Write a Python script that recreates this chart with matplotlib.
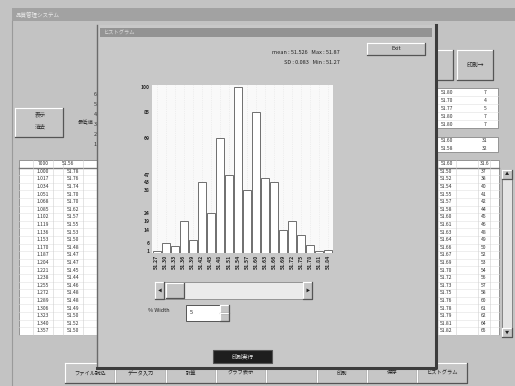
import matplotlib
matplotlib.use("Agg")
import matplotlib.pyplot as plt
from matplotlib.patches import Rectangle

plt.rcParams['font.family'] = ['Noto Sans CJK JP', 'DejaVu Sans']

# histogram data: bin lower edges and counts
bin_labels = ["51.27", "51.30", "51.33", "51.36", "51.39", "51.42", "51.45",
              "51.48", "51.51", "51.54", "51.57", "51.60", "51.63", "51.66",
              "51.69", "51.72", "51.75", "51.78", "51.81", "51.84"]
counts = [1, 6, 4, 19, 8, 43, 24, 69, 47, 100, 38, 85, 45, 43, 14, 19, 11, 5, 1, 2]
# counts shown on the vertical axis
count_ticks = [1, 6, 14, 19, 24, 38, 43, 47, 69, 85, 100]

stat_lines = ["mean : 51.526   Max : 51.87", "SD : 0.083   Min : 51.27"]
button_names = ["ファイル読込", "データ入力", "計算", "グラフ表示", "", "印刷", "保存", "ヒストグラム"]
left_col1 = ["1.000", "1.017", "1.034", "1.051", "1.068", "1.085", "1.102", "1.119",
             "1.136", "1.153", "1.170", "1.187", "1.204", "1.221", "1.238", "1.255",
             "1.272", "1.289", "1.306", "1.323", "1.340", "1.357"]
left_col2 = ["51.78", "51.76", "51.74", "51.70", "51.70", "51.62", "51.57", "51.55",
             "51.53", "51.50", "51.48", "51.47", "51.47", "51.45", "51.44", "51.46",
             "51.48", "51.48", "51.49", "51.50", "51.52", "51.50"]
right_col1 = ["51.50", "51.52", "51.54", "51.55", "51.57", "51.58", "51.60", "51.61",
              "51.63", "51.64", "51.66", "51.67", "51.69", "51.70", "51.72", "51.73",
              "51.75", "51.76", "51.78", "51.79", "51.81", "51.82"]
right_col2 = ["37", "38", "40", "41", "42", "44", "45", "46", "48", "49", "50",
              "52", "53", "54", "56", "57", "58", "60", "61", "62", "64", "65"]

W, H = 515, 386
fig = plt.figure(figsize=(W / 100, H / 100), dpi=100)
fig.patch.set_facecolor("#c3c3c3")

bg = fig.add_axes([0, 0, 1, 1])
bg.set_xlim(0, W)
bg.set_ylim(H, 0)
bg.axis("off")


def box(x, y, w, h, fc, ec="none", lw=0.8, z=1):
    bg.add_patch(Rectangle((x, y), w, h, facecolor=fc, edgecolor=ec, linewidth=lw, zorder=z))


def button(x, y, w, h, label="", z=2, fs=4.2):
    box(x, y, w, h, "#c6c6c6", z=z)
    bg.plot([x, x + w], [y, y], color="white", lw=0.8, zorder=z + 0.1)
    bg.plot([x, x], [y, y + h], color="white", lw=0.8, zorder=z + 0.1)
    bg.plot([x, x + w, x + w], [y + h, y + h, y], color="#555555", lw=0.9, zorder=z + 0.1)
    if label:
        bg.text(x + w / 2, y + h / 2, label, fontsize=fs, color="#222222",
                ha="center", va="center", zorder=z + 0.2)


def table(x, y, widths, n_rows, row_h, col_a, col_b, z=1.5):
    total = sum(widths)
    box(x, y, total, row_h * (n_rows + 1), "white", ec="#888888", lw=0.6, z=z)
    bg.plot([x, x + total], [y + row_h + 0.5, y + row_h + 0.5], color="#777777", lw=1.0, zorder=z + 0.1)
    for r in range(1, n_rows + 1):
        yy = y + row_h * (r + 1)
        bg.plot([x, x + total], [yy, yy], color="#e2e2e2", lw=0.4, zorder=z + 0.1)
    xx = x
    for wd in widths[:-1]:
        xx += wd
        bg.plot([xx, xx], [y, y + row_h * (n_rows + 1)], color="#cfcfcf", lw=0.4, zorder=z + 0.1)
    cx_a = x + widths[0] + widths[1] / 2
    cx_b = x + sum(widths[:3]) + widths[3] / 2
    for r in range(n_rows):
        yy = y + row_h * (r + 1.5)
        bg.text(cx_a, yy, col_a[r], fontsize=3.6, color="#333333", ha="center", va="center", zorder=z + 0.2)
        bg.text(cx_b, yy, col_b[r], fontsize=3.6, color="#333333", ha="center", va="center", zorder=z + 0.2)


# main window
box(12, 8, 503, 13, "#a2a2a2", z=1)
bg.text(16, 14.5, "品質管理システム", fontsize=4, color="#e8e8e8", va="center", zorder=1.2)
bg.plot([12, 12], [21, 386], color="#9a9a9a", lw=0.8, zorder=1)

button(15, 108, 48, 29, "", z=1.5)
bg.text(40, 115, "表示", fontsize=4, color="#333333", ha="center", va="center", zorder=2)
bg.text(40, 127, "消去", fontsize=4, color="#333333", ha="center", va="center", zorder=2)
for yy, s in zip([95, 105, 115, 125, 135, 145], ["6", "5", "4", "3", "2", "1"]):
    bg.text(95, yy, s, fontsize=4, color="#333333", ha="center", va="center", zorder=1.5)
bg.text(86, 123, "最低値", fontsize=3.8, color="#333333", ha="center", va="center", zorder=1.5)

table(19, 160, [14, 20, 10, 20, 30], 22, 7.6, left_col1, left_col2)
bg.text(43, 163.8, "7000", fontsize=3.6, color="#333333", ha="center", va="center", zorder=2)
bg.text(68, 163.8, "51.56", fontsize=3.6, color="#333333", ha="center", va="center", zorder=2)

# right side panels
button(437, 50, 16, 30, "", z=1.5)
button(457, 50, 36, 30, "印刷→", z=1.5)
box(437, 88, 61, 40, "white", ec="#888888", lw=0.6, z=1.5)
for k in range(1, 5):
    bg.plot([437, 498], [88 + 8 * k, 88 + 8 * k], color="#e0e0e0", lw=0.4, zorder=1.6)
for k, (a, b) in enumerate(zip(["51.80", "51.70", "51.77", "51.80", "51.80"], ["7", "4", "5", "7", "7"])):
    bg.text(447, 92 + 8 * k, a, fontsize=3.6, color="#333333", ha="center", va="center", zorder=1.7)
    bg.text(485, 92 + 8 * k, b, fontsize=3.6, color="#333333", ha="center", va="center", zorder=1.7)
box(437, 137, 61, 15, "white", ec="#888888", lw=0.6, z=1.5)
bg.text(447, 141, "51.60", fontsize=3.6, color="#333333", ha="center", va="center", zorder=1.7)
bg.text(447, 148, "51.58", fontsize=3.6, color="#333333", ha="center", va="center", zorder=1.7)
bg.text(485, 141, "31", fontsize=3.6, color="#333333", ha="center", va="center", zorder=1.7)
bg.text(485, 148, "32", fontsize=3.6, color="#333333", ha="center", va="center", zorder=1.7)
table(437, 160, [0.5, 18, 22, 12, 9], 22, 7.6, right_col1, right_col2)
bg.text(447, 163.8, "51.60", fontsize=3.6, color="#333333", ha="center", va="center", zorder=2)
bg.text(485, 163.8, "31.6", fontsize=3.6, color="#333333", ha="center", va="center", zorder=2)
box(502, 170, 10, 167, "#e4e4e4", ec="#777777", lw=0.6, z=1.5)
button(502, 170, 10, 9, "▲", z=1.6, fs=3)
button(502, 328, 10, 9, "▼", z=1.6, fs=3)

# bottom button row
for i, name in enumerate(button_names):
    button(65 + i * 50.3, 363, 50.3, 20, name, z=1.5, fs=3.8)

# histogram dialog
box(97, 25, 338, 343, "#c8c8c8", z=3)
bg.plot([97, 97], [25, 368], color="#6a6a6a", lw=1.0, zorder=3.1)
bg.plot([97, 435.5, 435.5], [368, 368, 25], color="#3c3c3c", lw=2.2, zorder=3.1)
box(100, 28, 332, 9, "#939393", z=3.2)
bg.text(104, 32.5, "ヒストグラム", fontsize=3.8, color="#dddddd", va="center", zorder=3.3)

for k, line in enumerate(stat_lines):
    bg.text(340, 53 + 10 * k, line, fontsize=4, color="#222222", ha="right", va="center", zorder=3.3)
button(367, 43, 58, 12, "Exit", z=3.3, fs=4)

# scrollbar under the chart
box(155, 282, 157, 17, "#ebebeb", ec="#8a8a8a", lw=0.6, z=3.3)
button(155, 282, 9, 17, "◀", z=3.4, fs=3)
button(166, 283, 18, 15, "", z=3.4)
button(303, 282, 9, 17, "▶", z=3.4, fs=3)

bg.text(148, 310, "% Width", fontsize=4, color="#222222", va="center", zorder=3.3)
box(186, 305, 34, 16, "white", ec="#555555", lw=0.7, z=3.3)
bg.text(190, 313, "5", fontsize=4, color="#222222", va="center", zorder=3.4)
button(220, 305, 9, 8, "", z=3.4)
button(220, 313, 9, 8, "", z=3.4)

box(213, 350, 59, 13, "#1e1e1e", ec="#555555", lw=0.8, z=3.3)
bg.text(242.5, 356.5, "印刷実行", fontsize=4, color="#e8e8e8", ha="center", va="center", zorder=3.4)

# histogram plot area
x0, x1, y_top, y_bot = 152, 333, 85, 253
ax = fig.add_axes([x0 / W, 1 - y_bot / H, (x1 - x0) / W, (y_bot - y_top) / H])
ax.set_facecolor("#f9f9f9")
pos = range(len(counts))
ax.bar(pos, counts, width=0.88, color="white", edgecolor="#6e6e6e", linewidth=0.7, zorder=2)
ax.set_xlim(-0.5, len(counts) - 0.5)
ax.set_ylim(0, max(counts) * (y_bot - y_top) / (y_bot - 87))
ax.set_xticks(list(pos))
ax.set_xticklabels(bin_labels, rotation=90, fontsize=3.8, color="#2a2a2a", fontweight="bold")
ax.set_yticks(count_ticks)
ax.set_yticklabels([str(c) for c in count_ticks], fontsize=3.6, color="#2a2a2a", fontweight="bold")
ax.tick_params(length=0, pad=1.5)
ax.grid(axis="x", color="#e4e4e4", linewidth=0.5, linestyle=":", zorder=1)
for s in ax.spines.values():
    s.set_visible(False)
ax.set_zorder(5)

fig.savefig("out.png", dpi=100, facecolor=fig.get_facecolor())
